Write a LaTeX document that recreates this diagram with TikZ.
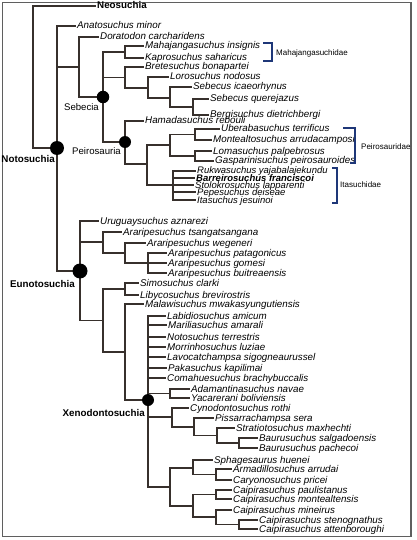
\documentclass[tikz,border=0pt]{standalone}
\usepackage{fontspec}
\setmainfont{Liberation Sans}
\definecolor{edgec}{RGB}{55,48,44}
\definecolor{brk}{RGB}{30,55,120}
\definecolor{framec}{RGB}{95,95,95}
\begin{document}
\begin{tikzpicture}[x=1pt,y=-1pt,
  edge/.style={draw=edgec,line width=1.6pt},
  leaf/.style={anchor=west,inner xsep=1.5pt,inner ysep=0pt,text height=6pt,text depth=0pt,
    font=\fontsize{9.8}{10}\selectfont\itshape},
  sleaf/.style={leaf,font=\fontsize{9.5}{10}\selectfont\itshape},
  bleaf/.style={leaf,font=\fontsize{9.5}{10}\selectfont\bfseries\itshape},
  clade/.style={inner sep=0pt,text height=6pt,text depth=0pt,font=\fontsize{9.8}{10}\selectfont\bfseries},
  reg/.style={inner sep=0pt,text height=6pt,text depth=0pt,font=\fontsize{9.6}{10}\selectfont},
  fam/.style={anchor=west,inner sep=0pt,text height=5pt,text depth=0pt,font=\fontsize{8}{9}\selectfont},
  dot/.style={circle,fill=black,draw=none,inner sep=0pt,minimum size=#1},
  bracket/.style={draw=brk,line width=1.8pt}
]
\useasboundingbox (0,0) rectangle (417,540);
\draw[framec,line width=1.1pt] (2.5,2.5) rectangle (411,536.5);

% ---------- internal nodes ----------
\coordinate (root) at (33,77);
\coordinate (notoN) at (57,148);
\coordinate (dsN) at (79,67);
\coordinate (sebN) at (103,97);
\coordinate (mahaN) at (125,52);
\coordinate (breN) at (125,77.5);
\coordinate (loroN) at (148,88);
\coordinate (sebecN) at (170,98);
\coordinate (squerN) at (193,107);
\coordinate (peiN) at (125,142);
\coordinate (peiIn) at (147,164);
\coordinate (peirN) at (170,145);
\coordinate (uberaN) at (195,134.5);
\coordinate (lomasN) at (195,156);
\coordinate (itaN) at (173,185);
\coordinate (eunoN) at (80,271);
\coordinate (araN) at (103,242);
\coordinate (araN2) at (125,253);
\coordinate (araN3) at (148,263);
\coordinate (lowN) at (103,320.5);
\coordinate (simN) at (125,289);
\coordinate (malN) at (125,352);
\coordinate (xenoN) at (148,400);
\coordinate (adaN) at (170,393.5);
\coordinate (cynN) at (172,417);
\coordinate (pisN) at (194,427);
\coordinate (strN) at (217,435.5);
\coordinate (bauN) at (239,443);
\coordinate (sphN) at (170,487);
\coordinate (sphSub) at (193,468);
\coordinate (armN) at (216,474.5);
\coordinate (caiN) at (193,506);
\coordinate (cpN) at (216,494.5);
\coordinate (cmN) at (216,517);
\coordinate (csN) at (239,524.5);

% ---------- leaves ----------
\node[clade,anchor=west,inner xsep=1pt] (neo) at (96,6) {Neosuchia};
\node[leaf] (anato) at (75.5,26) {Anatosuchus minor};
\node[leaf] (dorat) at (98.5,37) {Doratodon carcharidens};
\node[leaf] (mahaj) at (143.5,46) {Mahajangasuchus insignis};
\node[leaf] (kapro) at (143.5,58) {Kaprosuchus saharicus};
\node[leaf] (brete) at (143.5,67) {Bretesuchus bonapartei};
\node[leaf] (loro) at (168.5,77) {Lorosuchus nodosus};
\node[leaf] (sicae) at (191.5,87) {Sebecus icaeorhynus};
\node[leaf] (squer) at (208.5,99) {Sebecus querejazus};
\node[leaf] (bergi) at (208.5,115) {Bergisuchus dietrichbergi};
\node[leaf] (hamad) at (143.5,121) {Hamadasuchus rebouli};
\node[leaf] (ubera) at (219.5,129) {Uberabasuchus terrificus};
\node[leaf] (monte) at (211.5,140) {Montealtosuchus arrudacamposi};
\node[leaf] (lomas) at (211.5,151) {Lomasuchus palpebrosus};
\node[leaf] (gaspa) at (213.5,161) {Gasparinisuchus peirosauroides};
\node[sleaf] (rukwa) at (195.5,171) {Rukwasuchus yajabalajekundu};
\node[bleaf] (barre) at (194.5,178) {Barreirosuchus franciscoi};
\node[sleaf] (stolo) at (193.5,185) {Stolokrosuchus lapparenti};
\node[sleaf] (pepes) at (195.5,192) {Pepesuchus deiseae};
\node[sleaf] (itasu) at (195.5,200) {Itasuchus jesuinoi};

\node[leaf] (urugu) at (98.5,221) {Uruguaysuchus aznarezi};
\node[leaf] (atsan) at (121.5,232) {Araripesuchus tsangatsangana};
\node[leaf] (awege) at (145.5,243) {Araripesuchus wegeneri};
\node[leaf] (apata) at (166.5,253) {Araripesuchus patagonicus};
\node[leaf] (agome) at (166.5,263) {Araripesuchus gomesi};
\node[leaf] (abuit) at (166.5,273) {Araripesuchus buitreaensis};
\node[leaf] (simos) at (138.5,283) {Simosuchus clarki};
\node[leaf] (libyc) at (138.5,295) {Libycosuchus brevirostris};
\node[leaf] (malaw) at (143.5,304) {Malawisuchus mwakasyungutiensis};
\node[leaf] (labid) at (165.5,316) {Labidiosuchus amicum};
\node[leaf] (maril) at (166.5,325) {Mariliasuchus amarali};
\node[leaf] (notos) at (165.5,337) {Notosuchus terrestris};
\node[leaf] (morri) at (165.5,347) {Morrinhosuchus luziae};
\node[leaf] (lavoc) at (165.5,357) {Lavocatchampsa sigogneaurussel};
\node[leaf] (pakas) at (166.5,368) {Pakasuchus kapilimai};
\node[leaf] (comah) at (165.5,378) {Comahuesuchus brachybuccalis};
\node[leaf] (adama) at (189.5,389) {Adamantinasuchus navae};
\node[leaf] (yacar) at (189.5,398) {Yacarerani boliviensis};
\node[leaf] (cynod) at (188.5,408) {Cynodontosuchus rothi};
\node[leaf] (pissa) at (213.5,418) {Pissarrachampsa sera};
\node[leaf] (strat) at (234.5,428) {Stratiotosuchus maxhechti};
\node[leaf] (bsalg) at (257.5,438) {Baurusuchus salgadoensis};
\node[leaf] (bpach) at (257.5,448) {Baurusuchus pachecoi};
\node[leaf] (sphag) at (212.5,460) {Sphagesaurus huenei};
\node[leaf] (armad) at (231.5,469) {Armadillosuchus arrudai};
\node[leaf] (caryo) at (231.5,480) {Caryonosuchus pricei};
\node[leaf] (cpaul) at (231.5,490) {Caipirasuchus paulistanus};
\node[leaf] (cmont) at (231.5,499) {Caipirasuchus montealtensis};
\node[leaf] (cmine) at (231.5,510) {Caipirasuchus mineirus};
\node[leaf] (cste) at (257.5,520) {Caipirasuchus stenognathus};
\node[leaf] (catte) at (257.5,529) {Caipirasuchus attenboroughi};

% ---------- connectors ----------
\draw[edge] (root) |- (neo.west);
\draw[edge] (root) |- (notoN);
\draw[edge] (notoN) |- (anato.west);
\draw[edge] (notoN) |- (dsN);
\draw[edge] (notoN) |- (eunoN);
\draw[edge] (dsN) |- (dorat.west);
\draw[edge] (dsN) |- (sebN);
\draw[edge] (sebN) |- (mahaN);
\draw[edge] (sebN) |- (breN);
\draw[edge] (sebN) |- (peiN);
\draw[edge] (mahaN) |- (mahaj.west);
\draw[edge] (mahaN) |- (kapro.west);
\draw[edge] (breN) |- (brete.west);
\draw[edge] (breN) |- (loroN);
\draw[edge] (loroN) |- (loro.west);
\draw[edge] (loroN) |- (sebecN);
\draw[edge] (sebecN) |- (sicae.west);
\draw[edge] (sebecN) |- (squerN);
\draw[edge] (squerN) |- (squer.west);
\draw[edge] (squerN) |- (bergi.west);
\draw[edge] (peiN) |- (hamad.west);
\draw[edge] (peiN) |- (peiIn);
\draw[edge] (peiIn) |- (peirN);
\draw[edge] (peiIn) |- (itaN);
\draw[edge] (peirN) |- (uberaN);
\draw[edge] (peirN) |- (lomasN);
\draw[edge] (uberaN) |- (ubera.west);
\draw[edge] (uberaN) |- (monte.west);
\draw[edge] (lomasN) |- (lomas.west);
\draw[edge] (lomasN) |- (gaspa.west);
\foreach \t in {rukwa,barre,stolo,pepes,itasu} \draw[edge] (itaN) |- (\t.west);

\draw[edge] (eunoN) |- (urugu.west);
\draw[edge] (eunoN) |- (araN);
\draw[edge] (eunoN) |- (lowN);
\draw[edge] (araN) |- (atsan.west);
\draw[edge] (araN) |- (araN2);
\draw[edge] (araN2) |- (awege.west);
\draw[edge] (araN2) |- (araN3);
\foreach \t in {apata,agome,abuit} \draw[edge] (araN3) |- (\t.west);
\draw[edge] (lowN) |- (simN);
\draw[edge] (lowN) |- (malN);
\draw[edge] (simN) |- (simos.west);
\draw[edge] (simN) |- (libyc.west);
\draw[edge] (malN) |- (malaw.west);
\draw[edge] (malN) |- (xenoN);
\foreach \t in {labid,maril,notos,morri,lavoc,pakas,comah} \draw[edge] (xenoN) |- (\t.west);
\draw[edge] (xenoN) |- (adaN);
\draw[edge] (xenoN) |- (cynN);
\draw[edge] (xenoN) |- (sphN);
\draw[edge] (adaN) |- (adama.west);
\draw[edge] (adaN) |- (yacar.west);
\draw[edge] (cynN) |- (cynod.west);
\draw[edge] (cynN) |- (pisN);
\draw[edge] (pisN) |- (pissa.west);
\draw[edge] (pisN) |- (strN);
\draw[edge] (strN) |- (strat.west);
\draw[edge] (strN) |- (bauN);
\draw[edge] (bauN) |- (bsalg.west);
\draw[edge] (bauN) |- (bpach.west);
\draw[edge] (sphN) |- (sphSub);
\draw[edge] (sphN) |- (caiN);
\draw[edge] (sphSub) |- (sphag.west);
\draw[edge] (sphSub) |- (armN);
\draw[edge] (armN) |- (armad.west);
\draw[edge] (armN) |- (caryo.west);
\draw[edge] (caiN) |- (cpN);
\draw[edge] (caiN) |- (cmN);
\draw[edge] (cpN) |- (cpaul.west);
\draw[edge] (cpN) |- (cmont.west);
\draw[edge] (cmN) |- (cmine.west);
\draw[edge] (cmN) |- (csN);
\draw[edge] (csN) |- (cste.west);
\draw[edge] (csN) |- (catte.west);

% ---------- node dots ----------
\node[dot=14pt] (notoDot) at (notoN) {};
\node[dot=12.5pt] (sebDot) at (sebN) {};
\node[dot=12pt] (peiDot) at (peiN) {};
\node[dot=15pt] (eunoDot) at (eunoN) {};
\node[dot=12pt] (xenoDot) at (xenoN) {};

% ---------- clade labels ----------
\node[clade,anchor=east] (notoL) at (55,160) {Notosuchia};
\node[reg,anchor=east] (sebL) at (99,108) {Sebecia};
\node[reg,anchor=east] (peiL) at (121,152) {Peirosauria};
\node[clade,anchor=east] (eunoL) at (75,284) {Eunotosuchia};
\node[clade,anchor=east] (xenoL) at (145,413) {Xenodontosuchia};

% ---------- family brackets ----------
\draw[bracket] (263,43) -- (272,43) -- (272,61) -- (263,61);
\node[fam] (mahaL) at (276,53) {Mahajangasuchidae};
\draw[bracket] (343,128) -- (355,128) -- (355,163) -- (350,163);
\node[fam] (peirL) at (361,147) {Peirosauridae};
\draw[bracket] (332,168) -- (337,168) -- (337,203) -- (332,203);
\node[fam] (itaL) at (340,185) {Itasuchidae};
\end{tikzpicture}
\end{document}
